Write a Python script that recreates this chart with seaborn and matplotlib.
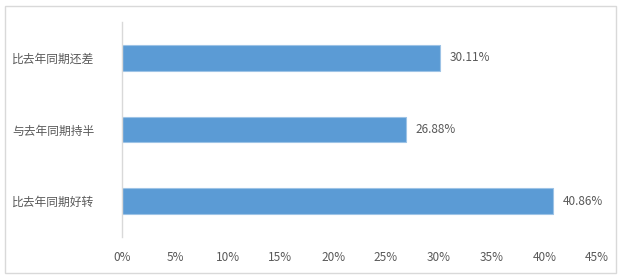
import matplotlib
matplotlib.use("Agg")
import matplotlib.pyplot as plt
import seaborn as sns
import pandas as pd
from matplotlib.patches import Rectangle

categories = ["比去年同期还差", "与去年同期持半", "比去年同期好转"]
values = [30.11, 26.88, 40.86]
xticks = [0, 5, 10, 15, 20, 25, 30, 35, 40, 45]
xtick_labels = [f"{t}%" for t in xticks]

sns.set_theme(style="white")
plt.rcParams['font.family'] = ['Noto Sans CJK SC', 'DejaVu Sans']

df = pd.DataFrame({"cat": categories, "val": values})

fig = plt.figure(figsize=(6.2, 2.8), dpi=100)
ax = fig.add_axes([0.197, 0.154, 0.766, 0.767])
sns.barplot(data=df, x="val", y="cat", orient="h", color="#5B9BD5",
            width=0.36, edgecolor="#9DC3E6", linewidth=0.8, saturation=1, ax=ax)

ax.set_xlim(0, 45)
ax.set_ylim(2.5, -0.5)
ax.set_xticks(xticks)
ax.set_xticklabels(xtick_labels)
ax.set_xlabel("")
ax.set_ylabel("")
ax.tick_params(axis="x", length=0, pad=10, labelsize=8.5, colors="#595959")
ax.tick_params(axis="y", length=0, pad=20, labelsize=8.5, colors="#595959")
for s in ["top", "right", "bottom"]:
    ax.spines[s].set_visible(False)
ax.spines["left"].set_color("#D9D9D9")
ax.spines["left"].set_linewidth(1.0)

for i, v in enumerate(values):
    ax.annotate(f"{v:.2f}%", xy=(v, i), xytext=(7, 0), textcoords="offset points",
                va="center", ha="left", fontsize=8.5, color="#595959")

fig.patches.append(Rectangle((0.008, 0.025), 0.985, 0.955, transform=fig.transFigure,
                             fill=False, edgecolor="#D9D9D9", linewidth=1.0))

fig.savefig("out.png", dpi=100)
